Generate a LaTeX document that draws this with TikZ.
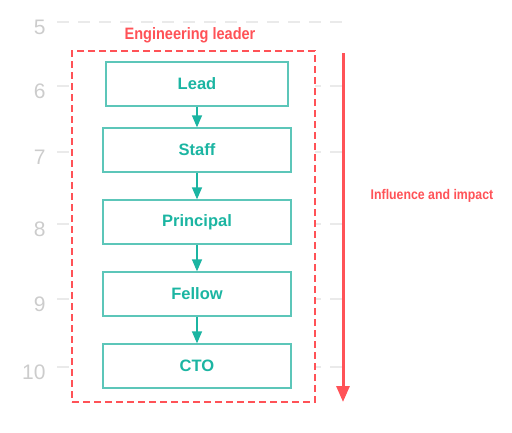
\documentclass[tikz,border=0pt]{standalone}
\usepackage{fontspec}
\setmainfont{Liberation Sans}
\newfontfamily\narrowfont[FakeStretch=0.88]{Liberation Sans}
\usetikzlibrary{arrows.meta, positioning}
\definecolor{leadteal}{HTML}{1BB5A2}
\definecolor{edgeteal}{HTML}{5CC6B9}
\definecolor{leadred}{HTML}{FF5257}
\definecolor{gridgray}{HTML}{EAEAEA}
\definecolor{numgray}{HTML}{CCCCCC}
\tikzset{
  levelbox/.style={
    rectangle, minimum width=188pt, minimum height=44pt,
    text centered, font=\fontsize{16.5}{18}\selectfont\bfseries,
    draw=edgeteal, line width=1.3pt, fill=white, text=leadteal
  },
  levelarrow/.style={-{Triangle[width=10pt,length=12pt]}, line width=1.3pt, color=leadteal},
  gridline/.style={gridgray, line width=1.5pt, dash pattern=on 12pt off 9pt},
  gridnum/.style={anchor=east, font=\fontsize{21}{23}\selectfont, text=numgray},
  leaderbox/.style={
    rectangle, draw=leadred, fill=white, line width=1.3pt,
    dash pattern=on 7pt off 4pt
  },
  redlabel/.style={font=\narrowfont\fontsize{#1}{#1}\selectfont\bfseries, text=leadred},
}
\begin{document}
\begin{tikzpicture}[x=1pt, y=-1pt]
  \useasboundingbox (0,0) rectangle (512,432);

  % level scale
  \foreach \lvl/\ypos in {5/22, 6/86, 7/152, 8/224, 9/299, 10/367} {
    \draw[gridline] (57,\ypos) -- (345,\ypos);
    \node[gridnum] (num\lvl) at (49,\ypos+5) {\lvl};
  }

  % leader group
  \node[leaderbox, minimum width=243pt, minimum height=351pt] (leader) at (193.5,226.5) {};
  \node[redlabel=16.5] (leadertitle) at (190,35) {Engineering leader};

  \node[levelbox, minimum width=182pt] (lead) at (197,84)  {Lead};
  \node[levelbox] (staff)     at (197,150) {Staff};
  \node[levelbox] (principal) at (197,222) {Principal};
  \node[levelbox] (fellow)    at (197,294) {Fellow};
  \node[levelbox] (cto)       at (197,366) {CTO};

  \draw[levelarrow] (lead) -- (staff);
  \draw[levelarrow] (staff) -- (principal);
  \draw[levelarrow] (principal) -- (fellow);
  \draw[levelarrow] (fellow) -- (cto);

  % influence arrow
  \coordinate (inflTop) at (343,53);
  \coordinate (inflBot) at (343,402);
  \draw[leadred, line width=3pt, -{Triangle[width=13pt,length=16pt]}] (inflTop) -- (inflBot);
  \node[redlabel=14] (influence) at (432,196) {Influence and impact};
\end{tikzpicture}
\end{document}
